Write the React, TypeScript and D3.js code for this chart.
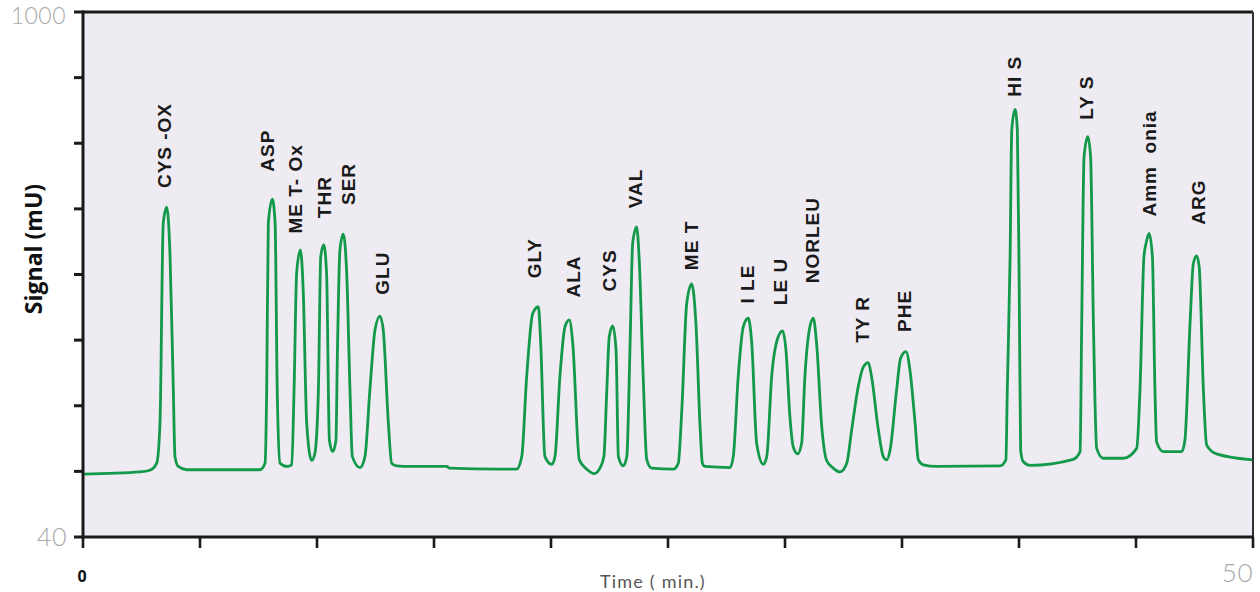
import React from 'react';
import * as d3 from 'd3';

// Chromatogram trace (time in min, signal in mU)
const traceTime = [
  0, 2.44, 2.86, 3.15, 3.29, 3.43, 3.58, 3.72, 3.86, 3.93, 4.07, 4.43, 7.56,
  7.78, 7.85, 7.92, 8.09, 8.21, 8.30, 8.42, 8.71, 8.92,
  9.02, 9.13, 9.29, 9.41, 9.56, 9.77, 9.91,
  10.06, 10.16, 10.29, 10.41, 10.53, 10.67, 10.81,
  10.87, 10.98, 11.12, 11.27, 11.41, 11.51, 11.84, 12.05,
  12.26, 12.48, 12.69, 12.83, 13.05, 13.19, 13.41, 13.97,
  15.55, 15.65, 17.82, 18.53,
  18.75, 18.96, 19.22, 19.46, 19.56, 19.74, 20.03,
  20.17, 20.38, 20.60, 20.78, 20.93, 21.21, 21.53, 21.85, 22.09,
  22.26, 22.38, 22.49, 22.64, 22.78, 22.88, 23.09,
  23.24, 23.38, 23.49, 23.66, 23.77, 23.94, 24.09, 24.30, 25.23,
  25.44, 25.59, 25.80, 26.01, 26.20, 26.37, 26.47, 26.58, 27.65,
  27.79, 28.00, 28.22, 28.43, 28.58, 28.79, 29.07, 29.22,
  29.43, 29.71, 29.90, 30.04, 30.21, 30.35, 30.54, 30.71,
  30.85, 31.04, 31.21, 31.35, 31.57, 31.78, 32.06, 32.35,
  32.64, 32.85, 33.13, 33.35, 33.56, 33.70, 33.99, 34.20, 34.35,
  34.49, 34.77, 34.94, 35.17, 35.34, 35.56, 35.70, 35.91, 36.48, 39.19,
  39.44, 39.50, 39.62, 39.69, 39.83, 39.93, 40.01, 40.07, 40.18, 40.47, 42.32,
  42.61, 42.68, 42.78, 42.94, 43.06, 43.18, 43.32, 43.60, 44.46,
  45.03, 45.17, 45.34, 45.43, 45.56, 45.70, 45.81, 45.88, 46.17, 46.95,
  47.09, 47.31, 47.45, 47.59, 47.70, 47.88, 48.02, 48.44, 50,
];
const traceSignal = [
  155, 159, 162, 175, 248, 614, 643, 553, 309, 187, 169, 163, 163,
  175, 309, 614, 658, 614, 309, 175, 169, 172,
  309, 523, 565, 492, 248, 180, 193,
  309, 553, 574, 522, 217, 196, 217,
  370, 565, 594, 522, 309, 187, 167, 187,
  309, 419, 444, 419, 248, 175, 170, 169,
  169, 166, 164, 164,
  187, 333, 449, 461, 394, 187, 173,
  187, 333, 425, 437, 394, 181, 164, 156, 166,
  187, 303, 406, 426, 382, 187, 170,
  187, 394, 577, 607, 547, 333, 182, 166, 164,
  175, 272, 467, 503, 425, 242, 175, 169, 167,
  187, 333, 425, 440, 394, 211, 173, 187,
  333, 406, 417, 382, 260, 205, 192, 211,
  333, 419, 440, 394, 242, 180, 166, 159,
  175, 236, 315, 351, 359, 333, 236, 187, 181,
  199, 309, 367, 379, 345, 248, 181, 172, 169, 170,
  181, 309, 553, 784, 822, 784, 492, 199, 178, 171, 182,
  196, 431, 735, 772, 735, 431, 202, 184, 184,
  202, 309, 553, 577, 595, 553, 309, 214, 196, 196,
  217, 431, 540, 554, 534, 309, 208, 192, 181,
];

// Peak labels
const peakNames = [
  'CYS -OX', 'ASP', 'ME T- Ox', 'THR', 'SER', 'GLU', 'GLY', 'ALA', 'CYS', 'VAL',
  'ME T', 'I LE', 'LE U', 'NORLEU', 'TY R', 'PHE', 'HI S', 'LY S', 'Amm  onia', 'ARG',
];
const labelTime = [
  3.78, 8.16, 9.34, 10.58, 11.62, 13.08, 19.59, 21.24, 22.78, 23.87,
  26.28, 28.68, 30.10, 31.47, 33.60, 35.38, 40.07, 43.18, 45.85, 47.95,
];
const labelSignal = [
  678, 708, 595, 623, 647, 483, 513, 478, 489, 641,
  528, 467, 464, 504, 395, 415, 845, 803, 626, 611,
];

const yTicks = [40, 160, 280, 400, 520, 640, 760, 880, 1000];
const xTicks = [0, 5, 10, 15, 20, 25, 30, 35, 40, 45, 50];
const xDomain = [0, 50];
const yDomain = [40, 1000];

const W = 1260;
const H = 592;
const M = { left: 83, right: 7, top: 12, bottom: 55 };

export default function App() {
  const x = d3.scaleLinear().domain(xDomain).range([M.left, W - M.right]);
  const y = d3.scaleLinear().domain(yDomain).range([H - M.bottom, M.top]);
  const pts: [number, number][] = traceTime.map((t, i) => [t, traceSignal[i]]);
  const line = d3
    .line<[number, number]>()
    .x((d) => x(d[0]))
    .y((d) => y(d[1]))
    .curve(d3.curveMonotoneX);

  const x0 = x(xDomain[0]);
  const x1 = x(xDomain[1]);
  const y0 = y(yDomain[0]);
  const y1 = y(yDomain[1]);

  return (
    <div style={{ position: 'fixed', left: 0, top: 0 }}>
      <svg width={W} height={H} style={{ display: 'block', background: '#fff' }}>
        <defs>
          <clipPath id="plotclip">
            <rect x={x0} y={y1} width={x1 - x0} height={y0 - y1} />
          </clipPath>
        </defs>
        <rect x={x0} y={y1} width={x1 - x0} height={y0 - y1} fill="#efebf2" />
        <path
          d={line(pts) || ''}
          fill="none"
          stroke="#13994a"
          strokeWidth={2.8}
          strokeLinejoin="round"
          clipPath="url(#plotclip)"
        />
        {peakNames.map((n, i) => (
          <text
            key={n}
            transform={`translate(${x(labelTime[i])},${y(labelSignal[i])}) rotate(-90)`}
            fontFamily="'Liberation Sans', Arial, sans-serif"
            fontWeight={700}
            fontSize={19}
            letterSpacing={1}
            fill="#1a1a1a"
            style={{ whiteSpace: 'pre' }}
          >
            {n}
          </text>
        ))}
        {/* frame */}
        <line x1={x0} x2={x1} y1={y1} y2={y1} stroke="#1a1a1a" strokeWidth={3} />
        <line x1={x1} x2={x1} y1={y1} y2={y0} stroke="#333" strokeWidth={2} />
        <line x1={x0} x2={x0} y1={y1 - 1.5} y2={y0 + 1.5} stroke="#1a1a1a" strokeWidth={3} />
        <line x1={x0 - 1.5} x2={x1 + 1} y1={y0} y2={y0} stroke="#1a1a1a" strokeWidth={3} />
        {yTicks.map((v) => (
          <line key={'yt' + v} x1={x0 - 9} x2={x0} y1={y(v)} y2={y(v)} stroke="#1a1a1a" strokeWidth={3} />
        ))}
        {xTicks.map((v) => (
          <line key={'xt' + v} x1={x(v)} x2={x(v)} y1={y0} y2={y0 + 11} stroke="#1a1a1a" strokeWidth={2.6} />
        ))}
        <text x={66} y={y(1000) + 12} textAnchor="end" fontFamily="Lato, sans-serif" fontWeight={300} fontSize={23} letterSpacing={0.5} fill="#a8a8a8">
          {yTicks[yTicks.length - 1]}
        </text>
        <text x={67} y={y(40) + 9} textAnchor="end" fontFamily="Lato, sans-serif" fontWeight={300} fontSize={25} letterSpacing={0.5} fill="#a8a8a8">
          {yTicks[0]}
        </text>
        <text x={x(0) - 1} y={582} textAnchor="middle" fontFamily="'Open Sans', sans-serif" fontWeight={700} fontSize={16} fill="#111">
          {xTicks[0]}
        </text>
        <text x={x(50)} y={582} textAnchor="end" fontFamily="Lato, sans-serif" fontWeight={300} fontSize={26} letterSpacing={0.5} fill="#a8a8a8">
          {xTicks[xTicks.length - 1]}
        </text>
        <text x={600} y={588} fontFamily="Lato, sans-serif" fontWeight={400} fontSize={18} letterSpacing={1.2} fill="#555">
          Time ( min.)
        </text>
        <text
          transform={`translate(41.5,249) rotate(-90)`}
          textAnchor="middle"
          fontFamily="'Open Sans', sans-serif"
          fontWeight={700}
          fontSize={23}
          fill="#111"
        >
          Signal (mU)
        </text>
      </svg>
    </div>
  );
}
